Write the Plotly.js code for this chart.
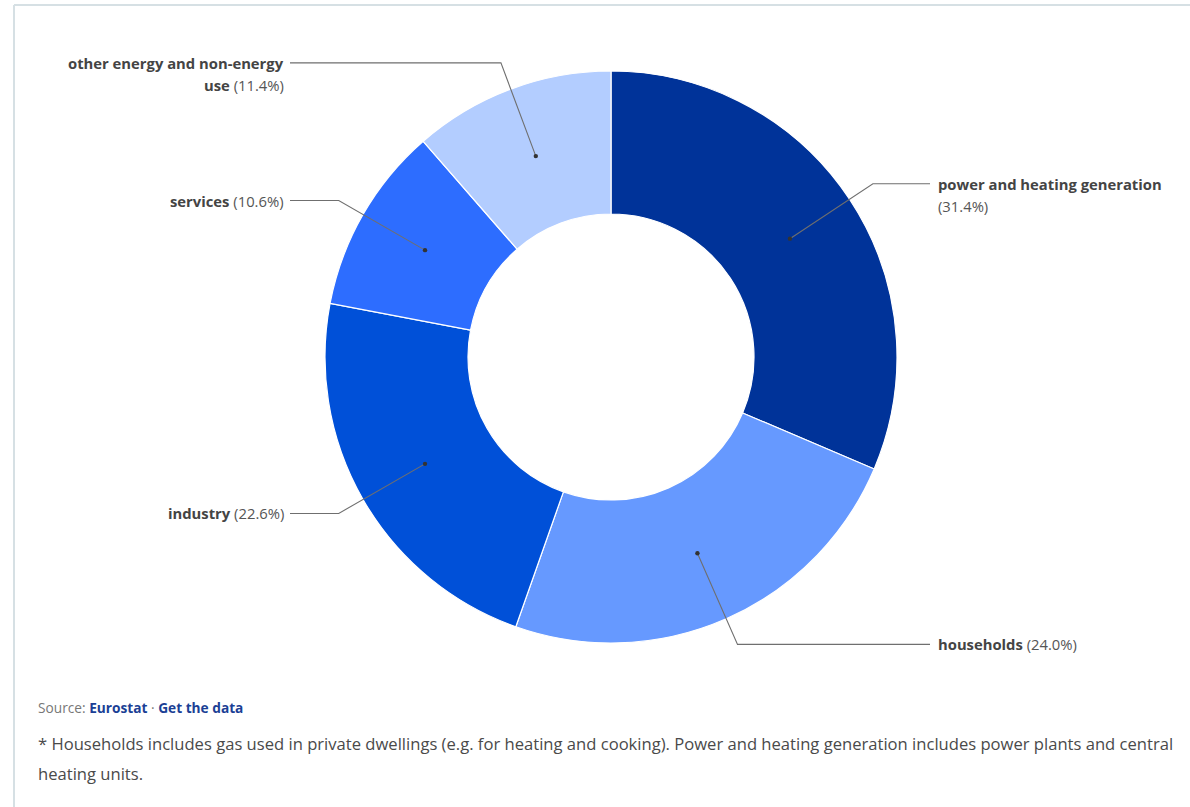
<!DOCTYPE html>
<html>
<head>
<meta charset="utf-8">
<script src="https://cdn.plot.ly/plotly-3.0.1.min.js"></script>
<style>
  html, body { margin: 0; padding: 0; background: #ffffff; }
  #chart { width: 1190px; height: 807px; }
</style>
</head>
<body>
<div id="chart"></div>
<script>
// ---- data ----
const categories = ["power and heating generation", "households", "industry", "services", "other energy and non-energy use"];
const shares = [31.4, 24.0, 22.6, 10.6, 11.4];
const sliceColors = ["#003399", "#6699ff", "#0050d8", "#2d6dff", "#b3cdff"];
const sourceName = "Eurostat";
const sourceLink = "Get the data";
const footnoteLines = [
  "* Households includes gas used in private dwellings (e.g. for heating and cooking). Power and heating generation includes power plants and central",
  "heating units."
];

// ---- layout geometry (pixels) ----
const W = 1190, H = 807;
const CX = 611, CY = 357, R = 286, HOLE = 0.5;
const px = x => x / W;
const py = y => 1 - y / H;

const shapes = [];
const annotations = [];
const FONT = "Open Sans, Noto Sans, sans-serif";

// frame lines
shapes.push({type: "line", xref: "paper", yref: "paper", x0: px(14), x1: px(1190), y0: py(5), y1: py(5), line: {color: "#d6e0e4", width: 2}});
shapes.push({type: "line", xref: "paper", yref: "paper", x0: px(14), x1: px(14), y0: py(5), y1: py(807), line: {color: "#d6e0e4", width: 2}});

// wrap label into lines of tokens
function wrapLabel(name, pct) {
  const tokens = name.split(" ").map(w => ({t: w, b: true}));
  tokens.push({t: "(" + pct.toFixed(1) + "%)", b: false});
  const lines = [];
  let cur = [], len = 0;
  tokens.forEach(tok => {
    const add = (cur.length ? 1 : 0) + tok.t.length;
    if (cur.length && len + add > 28) { lines.push(cur); cur = [tok]; len = tok.t.length; }
    else { cur.push(tok); len += add; }
  });
  if (cur.length) lines.push(cur);
  return lines.map(line => {
    let s = "", bold = [], reg = [];
    line.forEach(tok => { if (tok.b) bold.push(tok.t); else reg.push(tok.t); });
    if (bold.length) s += "<b>" + bold.join(" ") + "</b>";
    if (reg.length) s += (bold.length ? " " : "") + "<span style='color:#555'>" + reg.join(" ") + "</span>";
    return s;
  });
}

const total = shares.reduce((a, b) => a + b, 0);
let cum = 0;
categories.forEach((name, i) => {
  const mid = (cum + shares[i] / 2) / total * 2 * Math.PI;
  cum += shares[i];
  const sx = Math.sin(mid), sy = -Math.cos(mid);
  const rMid = R * (1 + HOLE) / 2;
  const dx = CX + sx * rMid, dy = CY + sy * rMid;
  const ex = CX + sx * (R + 28), ey = CY + sy * (R + 28);
  const right = sx >= 0;
  const hx = right ? 930 : 290;
  shapes.push({type: "path", xref: "paper", yref: "paper",
    path: `M ${px(dx)} ${py(dy)} L ${px(ex)} ${py(ey)} L ${px(hx)} ${py(ey)}`,
    line: {color: "#6f6f6f", width: 1.1}});
  shapes.push({type: "circle", xref: "paper", yref: "paper",
    x0: px(dx - 2.2), x1: px(dx + 2.2), y0: py(dy + 2.2), y1: py(dy - 2.2),
    fillcolor: "#333333", line: {width: 0}});
  const lines = wrapLabel(name, shares[i]);
  lines.forEach((ln, k) => {
    annotations.push({xref: "paper", yref: "paper", showarrow: false,
      x: px(right ? 936 : 286), y: py(ey + k * 22),
      xanchor: right ? "left" : "right", yanchor: "middle",
      align: right ? "left" : "right",
      text: ln, font: {family: FONT, size: 14.8, color: "#444444"}});
  });
});

// source + footnote
annotations.push({xref: "paper", yref: "paper", showarrow: false, x: px(36), y: py(707), xanchor: "left", yanchor: "middle",
  text: "<span style='color:#777'>Source: </span><b>" + sourceName + "</b><span style='color:#777'> · </span><b>" + sourceLink + "</b>",
  font: {family: FONT, size: 13.7, color: "#1b3f95"}});
footnoteLines.forEach((t, k) => {
  annotations.push({xref: "paper", yref: "paper", showarrow: false, x: px(36), y: py(743 + k * 30), xanchor: "left", yanchor: "middle",
    text: t, font: {family: FONT, size: 16.6, color: "#4a4a4a"}});
});

const trace = {
  type: "pie",
  labels: categories,
  values: shares,
  hole: HOLE,
  sort: false,
  direction: "clockwise",
  rotation: 0,
  textinfo: "none",
  hoverinfo: "label+percent",
  marker: {colors: sliceColors, line: {color: "#ffffff", width: 1.2}},
  domain: {x: [px(CX - R), px(CX + R)], y: [py(CY + R), py(CY - R)]},
  showlegend: false
};

Plotly.newPlot("chart", [trace], {
  width: W, height: H,
  margin: {l: 0, r: 0, t: 0, b: 0},
  paper_bgcolor: "#ffffff",
  showlegend: false,
  shapes: shapes,
  annotations: annotations
}, {displayModeBar: false, staticPlot: true});
</script>
</body>
</html>
